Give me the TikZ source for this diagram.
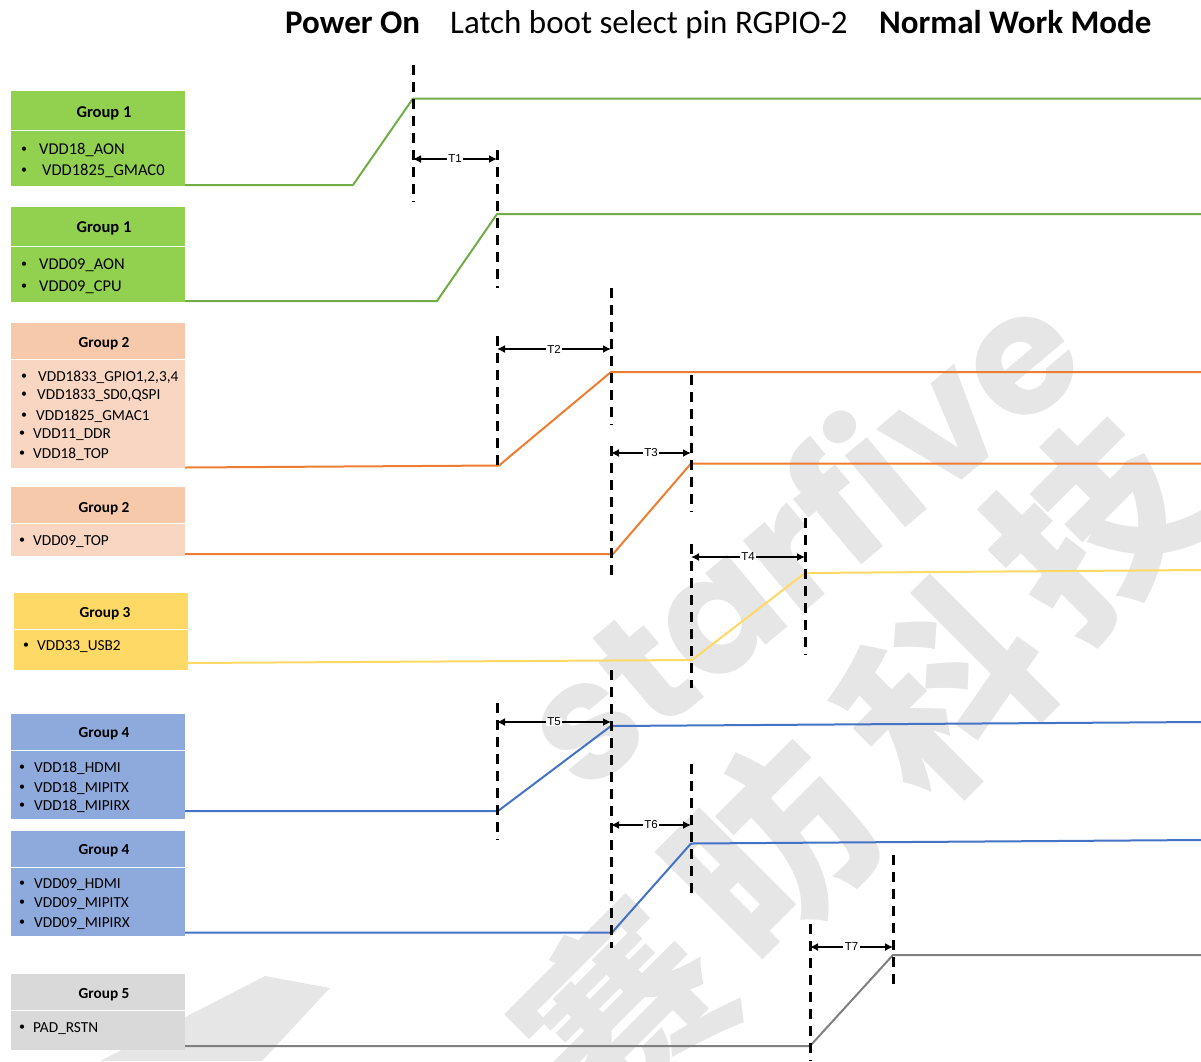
\documentclass[tikz,border=0pt]{standalone}
\usepackage{fontspec}
\setmainfont{Carlito}
\newfontfamily\arialf{Liberation Sans}
\newfontfamily\wmfont{Poppins}
\newfontfamily\cjk{Noto Sans CJK SC}
\usetikzlibrary{arrows.meta}
\definecolor{gA}{HTML}{92D050}
\definecolor{gL}{HTML}{70AD47}
\definecolor{oH}{HTML}{F7C9AB}
\definecolor{oB}{HTML}{F8D6C1}
\definecolor{oL}{HTML}{ED7D31}
\definecolor{yA}{HTML}{FFD966}
\definecolor{yL}{HTML}{FFD966}
\definecolor{bA}{HTML}{8EA9DB}
\definecolor{bL}{HTML}{4472C4}
\definecolor{kA}{HTML}{D9D9D9}
\definecolor{kL}{HTML}{808080}
\definecolor{wm}{HTML}{E6E6E6}
\tikzset{
  sig/.style={line width=2pt, line join=round},
  vdash/.style={line width=3pt, dash pattern=on 10pt off 7pt},
  tarrow/.style={line width=1.5pt, {Latex[length=8pt,width=8pt]}-{Latex[length=8pt,width=8pt]}},
  tlab/.style={fill=white, inner xsep=1.5pt, inner ysep=0pt, font=\arialf\fontsize{11.5}{12}\selectfont},
  hdr/.style={anchor=base, inner sep=0pt, font=\bfseries\fontsize{15.3}{18}\selectfont},
  hdrA/.style={anchor=base, inner sep=0pt, font=\bfseries\fontsize{16.5}{18}\selectfont},
  itm/.style={anchor=base west, inner sep=0pt, font=\fontsize{15.3}{18}\selectfont},
  itmA/.style={anchor=base west, inner sep=0pt, font=\fontsize{16.5}{18}\selectfont},
  bul/.style={anchor=base, inner sep=0pt, font=\fontsize{12}{14}\selectfont},
  ttl/.style={anchor=base west, inner sep=0pt, font=\fontsize{33}{36}\selectfont},
  wmlat/.style={text=wm, rotate=40, inner sep=0pt, font=\wmfont\bfseries\fontsize{168}{170}\selectfont},
  wmcjk/.style={text=wm, rotate=45, inner sep=0pt, font=\cjk\bfseries\fontsize{195}{200}\selectfont},
}
\begin{document}
\begin{tikzpicture}[x=1pt,y=-1pt]
\useasboundingbox (0,0) rectangle (1201,1061);
% watermark
\fill[wm] (100,1061) -- (265,976) -- (330,988) -- (262,1061) -- cycle;
\node[wmlat] (wmA) at (797,532) {starfive};
\node[wmcjk] (wmB1) at (622,1011) {赛};
\node[wmcjk] (wmB2) at (772,848) {昉};
\node[wmcjk] (wmB3) at (945,690) {科};
\node[wmcjk] (wmB4) at (1092,526) {技};
% title
\node[ttl, font=\bfseries\fontsize{33}{36}\selectfont] (tA) at (285,33) {Power On};
\node[ttl] (tB) at (450,33) {Latch boot select pin RGPIO-2};
\node[ttl, font=\bfseries\fontsize{33}{36}\selectfont] (tC) at (879,33) {Normal Work Mode};
% boxes
\fill[gA] (11,91) rectangle (185,129.5);
\fill[gA] (11,131) rectangle (185,186);
\fill[gA] (11,207) rectangle (185,245.5);
\fill[gA] (11,247) rectangle (185,302);
\fill[oH] (11,323) rectangle (185,358.5);
\fill[oB] (11,360) rectangle (185,468);
\fill[oH] (11,487) rectangle (185,522.5);
\fill[oB] (11,524) rectangle (185,556);
\fill[yA] (14,593) rectangle (188,628.5);
\fill[yA] (14,630) rectangle (188,670);
\fill[bA] (11,714) rectangle (185,749.5);
\fill[bA] (11,751) rectangle (185,819);
\fill[bA] (11,831) rectangle (185,866.5);
\fill[bA] (11,868) rectangle (185,936);
\fill[kA] (11,974) rectangle (185,1009.5);
\fill[kA] (11,1011) rectangle (185,1050);
% headers
\node[hdrA] (h1) at (104,117) {Group 1};
\node[hdrA] (h2) at (104,232) {Group 1};
\node[hdr] (h3) at (104,347) {Group 2};
\node[hdr] (h4) at (104,512) {Group 2};
\node[hdr] (h5) at (105,617) {Group 3};
\node[hdr] (h6) at (104,737) {Group 4};
\node[hdr] (h7) at (104,854) {Group 4};
\node[hdr] (h8) at (104,998) {Group 5};
% items
\node[bul] (b11) at (24,152) {•}; \node[itmA] (i11) at (39,154) {VDD18\_AON};
\node[bul] (b12) at (24,173) {•}; \node[itmA] (i12) at (42,175) {VDD1825\_GMAC0};
\node[bul] (b21) at (24,267) {•}; \node[itmA] (i21) at (39,269) {VDD09\_AON};
\node[bul] (b22) at (24,289) {•}; \node[itmA] (i22) at (39,291) {VDD09\_CPU};
\node[bul] (b31) at (24,379) {•}; \node[itm] (i31) at (38,381) {VDD1833\_GPIO1,2,3,4};
\node[bul] (b32) at (24,397) {•}; \node[itm] (i32) at (37,399) {VDD1833\_SD0,QSPI};
\node[bul] (b33) at (24,418) {•}; \node[itm] (i33) at (36,420) {VDD1825\_GMAC1};
\node[bul] (b34) at (22,436) {•}; \node[itm] (i34) at (33,438) {VDD11\_DDR};
\node[bul] (b35) at (22,456) {•}; \node[itm] (i35) at (33,458) {VDD18\_TOP};
\node[bul] (b41) at (22,543) {•}; \node[itm] (i41) at (33,545) {VDD09\_TOP};
\node[bul] (b51) at (26,648) {•}; \node[itm] (i51) at (37,650) {VDD33\_USB2};
\node[bul] (b61) at (22,770) {•}; \node[itm] (i61) at (34,772) {VDD18\_HDMI};
\node[bul] (b62) at (22,790) {•}; \node[itm] (i62) at (34,792) {VDD18\_MIPITX};
\node[bul] (b63) at (22,808) {•}; \node[itm] (i63) at (34,810) {VDD18\_MIPIRX};
\node[bul] (b71) at (22,886) {•}; \node[itm] (i71) at (34,888) {VDD09\_HDMI};
\node[bul] (b72) at (22,905) {•}; \node[itm] (i72) at (34,907) {VDD09\_MIPITX};
\node[bul] (b73) at (22,925) {•}; \node[itm] (i73) at (34,927) {VDD09\_MIPIRX};
\node[bul] (b81) at (22,1030) {•}; \node[itm] (i81) at (33,1032) {PAD\_RSTN};
% signals
\coordinate (s1a) at (185,185); \coordinate (s1b) at (353,185); \coordinate (s1c) at (413,98.5); \coordinate (s1d) at (1201,98.5);
\draw[sig, gL] (s1a) -- (s1b) -- (s1c) -- (s1d);
\coordinate (s2a) at (185,301); \coordinate (s2b) at (437,301); \coordinate (s2c) at (497,214); \coordinate (s2d) at (1201,214);
\draw[sig, gL] (s2a) -- (s2b) -- (s2c) -- (s2d);
\coordinate (s3a) at (185,467.5); \coordinate (s3b) at (499,465.5); \coordinate (s3c) at (611,372); \coordinate (s3d) at (1201,372);
\draw[sig, oL] (s3a) -- (s3b) -- (s3c) -- (s3d);
\coordinate (s4a) at (185,554); \coordinate (s4b) at (613,554); \coordinate (s4c) at (691,463.5); \coordinate (s4d) at (1201,463.5);
\draw[sig, oL] (s4a) -- (s4b) -- (s4c) -- (s4d);
\coordinate (s5a) at (188,663); \coordinate (s5b) at (692,660); \coordinate (s5c) at (805,573); \coordinate (s5d) at (1201,570);
\draw[sig, yL] (s5a) -- (s5b) -- (s5c) -- (s5d);
\coordinate (s6a) at (185,811); \coordinate (s6b) at (498,811); \coordinate (s6c) at (611,726); \coordinate (s6d) at (1201,722);
\draw[sig, bL] (s6a) -- (s6b) -- (s6c) -- (s6d);
\coordinate (s7a) at (185,932.5); \coordinate (s7b) at (612,932.5); \coordinate (s7c) at (691,843.5); \coordinate (s7d) at (1201,840);
\draw[sig, bL] (s7a) -- (s7b) -- (s7c) -- (s7d);
\coordinate (s8a) at (185,1046); \coordinate (s8b) at (810,1046); \coordinate (s8c) at (893,955); \coordinate (s8d) at (1201,955);
\draw[sig, kL] (s8a) -- (s8b) -- (s8c) -- (s8d);
% dashed markers
\coordinate (d1t) at (413,65);  \coordinate (d1b) at (413,202);  \draw[vdash] (d1t) -- (d1b);
\coordinate (d2t) at (497,150); \coordinate (d2b) at (497,288);  \draw[vdash] (d2t) -- (d2b);
\coordinate (d3t) at (497,336); \coordinate (d3b) at (497,472);  \draw[vdash] (d3t) -- (d3b);
\coordinate (d4t) at (611,288); \coordinate (d4b) at (611,425);  \draw[vdash] (d4t) -- (d4b);
\coordinate (d5t) at (691,375); \coordinate (d5b) at (691,512);  \draw[vdash] (d5t) -- (d5b);
\coordinate (d6t) at (611,446); \coordinate (d6b) at (611,582);  \draw[vdash] (d6t) -- (d6b);
\coordinate (d7t) at (691,544); \coordinate (d7b) at (691,688);  \draw[vdash] (d7t) -- (d7b);
\coordinate (d8t) at (805,518); \coordinate (d8b) at (805,655);  \draw[vdash] (d8t) -- (d8b);
\coordinate (d9t) at (497,703); \coordinate (d9b) at (497,840);  \draw[vdash] (d9t) -- (d9b);
\coordinate (d10t) at (611,670); \coordinate (d10b) at (611,948); \draw[vdash] (d10t) -- (d10b);
\coordinate (d11t) at (691,764); \coordinate (d11b) at (691,900); \draw[vdash] (d11t) -- (d11b);
\coordinate (d12t) at (810,924); \coordinate (d12b) at (810,1061); \draw[vdash] (d12t) -- (d12b);
\coordinate (d13t) at (893,855); \coordinate (d13b) at (893,990); \draw[vdash] (d13t) -- (d13b);
% timing arrows
\coordinate (a1l) at (413,159); \coordinate (a1r) at (497,159);
\draw[tarrow] (a1l) -- (a1r) node[midway, tlab] (l1) {T1};
\coordinate (a2l) at (497,349); \coordinate (a2r) at (611,349);
\draw[tarrow] (a2l) -- (a2r) node[midway, tlab] (l2) {T2};
\coordinate (a3l) at (611,453); \coordinate (a3r) at (691,453);
\draw[tarrow] (a3l) -- (a3r) node[midway, tlab] (l3) {T3};
\coordinate (a4l) at (691,557); \coordinate (a4r) at (805,557);
\draw[tarrow] (a4l) -- (a4r) node[midway, tlab] (l4) {T4};
\coordinate (a5l) at (497,722); \coordinate (a5r) at (611,722);
\draw[tarrow] (a5l) -- (a5r) node[midway, tlab] (l5) {T5};
\coordinate (a6l) at (611,825); \coordinate (a6r) at (691,825);
\draw[tarrow] (a6l) -- (a6r) node[midway, tlab] (l6) {T6};
\coordinate (a7l) at (810,947); \coordinate (a7r) at (893,947);
\draw[tarrow] (a7l) -- (a7r) node[midway, tlab] (l7) {T7};
\end{tikzpicture}
\end{document}
